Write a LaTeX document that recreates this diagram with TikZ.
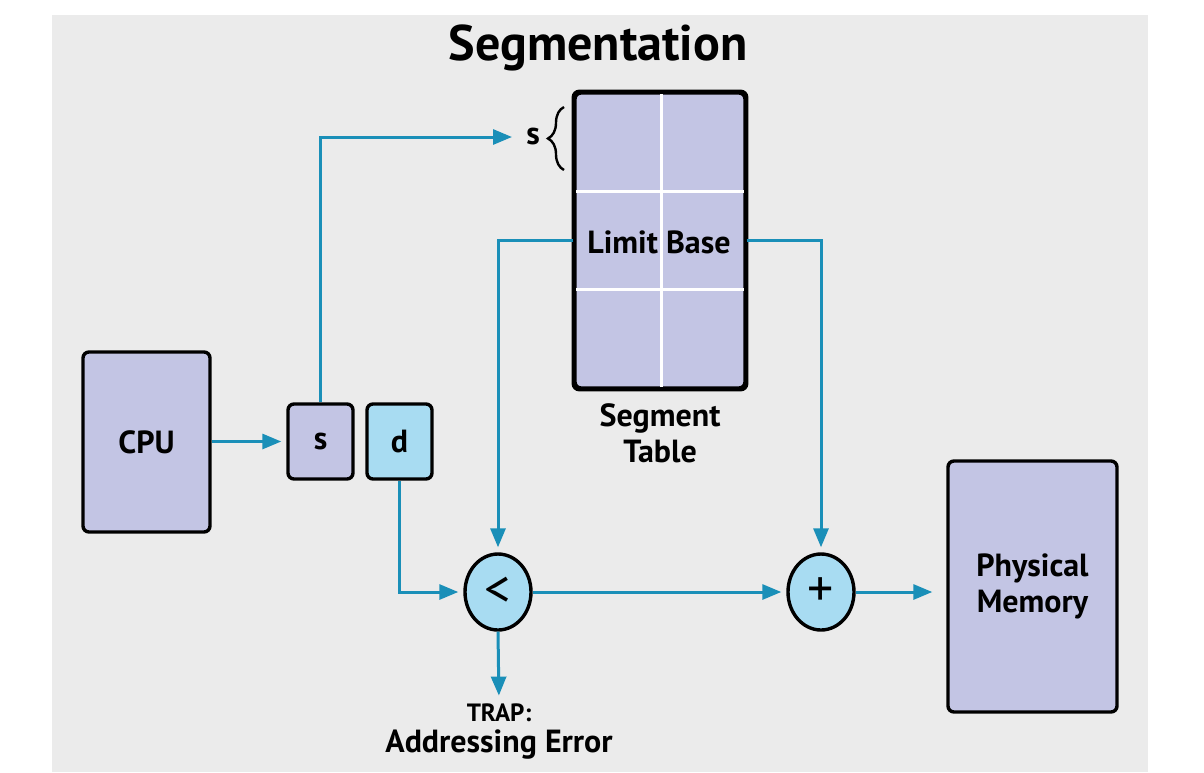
\documentclass[tikz,border=0pt]{standalone}
\usepackage{fontspec}
\setmainfont{PT Sans}
\usetikzlibrary{arrows.meta,shapes.geometric,decorations.pathreplacing}
\definecolor{bgc}{HTML}{EBEBEB}
\definecolor{lav}{HTML}{C3C5E4}
\definecolor{lblue}{HTML}{A8DCF2}
\definecolor{wirec}{HTML}{1A8FB8}
\begin{document}
\begin{tikzpicture}[x=0.5pt,y=-0.5pt,
  box/.style={draw=black,line width=1.7pt,rounded corners=3pt,fill=lav,inner sep=0pt,
    font=\bfseries\fontsize{16}{19}\selectfont,align=center},
  opnode/.style={ellipse,draw=black,line width=1.7pt,fill=lblue,minimum width=33pt,
    minimum height=38pt,inner sep=0pt,font=\fontsize{26}{26}\selectfont},
  wire/.style={draw=wirec,line width=1.5pt,-{Triangle[length=9.5pt,width=7.5pt]},shorten >=2.5pt},
  lbl/.style={font=\bfseries\fontsize{16}{19}\selectfont,align=center,inner sep=0pt}]
\useasboundingbox (0,0) rectangle (1204,772);
\fill[bgc] (52,15) rectangle (1148,772);
% title
\node[inner sep=0pt,font=\bfseries\fontsize{25}{30}\selectfont] (title) at (598,48) {Segmentation};
% boxes
\node[box,minimum width=63.5pt,minimum height=90pt] (cpu) at (146.5,442) {CPU};
\node[box,minimum width=32.5pt,minimum height=37.5pt] (sbox) at (320.5,441.5) {s};
\node[box,fill=lblue,minimum width=32.5pt,minimum height=37.5pt] (dbox) at (399.5,441.5) {d};
\node[box,minimum width=84.5pt,minimum height=125.5pt] (mem) at (1032.5,586.5) {Physical\\[-1pt]Memory};
% segment table
\node[box,minimum width=85pt,minimum height=147.5pt] (table) at (660,240.5) {};
\draw[white,line width=1.5pt] (661,94) -- (661,387) (576,191) -- (744,191) (576,289) -- (744,289);
\draw[black,line width=1.7pt,rounded corners=3pt] (table.north west) rectangle (table.south east);
\node[lbl] (tabtext) at (659,242) {Limit Base};
\node[lbl] (tablbl) at (660,433) {Segment\\[-1pt]Table};
% s label and brace
\node[lbl] (slbl) at (533,136) {s};
\draw[decorate,decoration={brace,amplitude=8pt},line width=1.2pt] (564,170) -- (564,107);
% operators
\node[opnode] (lt) at (498,592) {<};
\node[opnode] (plus) at (821,592) {+};
% trap
\node[inner sep=0pt,font=\bfseries\fontsize{12.5}{15}\selectfont] (trap) at (499,713) {TRAP:};
\node[lbl] (addr) at (499,745) {Addressing Error};
% connectors
\coordinate (sin) at (517,137);
\draw[wire] (cpu.east |- sbox.west) -- (sbox.west);
\draw[wire] (sbox.north) |- (sin);
\draw[wire] (table.west) -| (lt.north);
\draw[wire] (table.east) -| (plus.north);
\draw[wire] (dbox.south) |- (lt.west);
\draw[wire] (lt.east) -- (plus.west);
\draw[wire,shorten >=7pt] (plus.east) -- (plus.east -| mem.west);
\draw[wire,shorten >=4pt] (lt.south) -- (trap.north);
\end{tikzpicture}
\end{document}
